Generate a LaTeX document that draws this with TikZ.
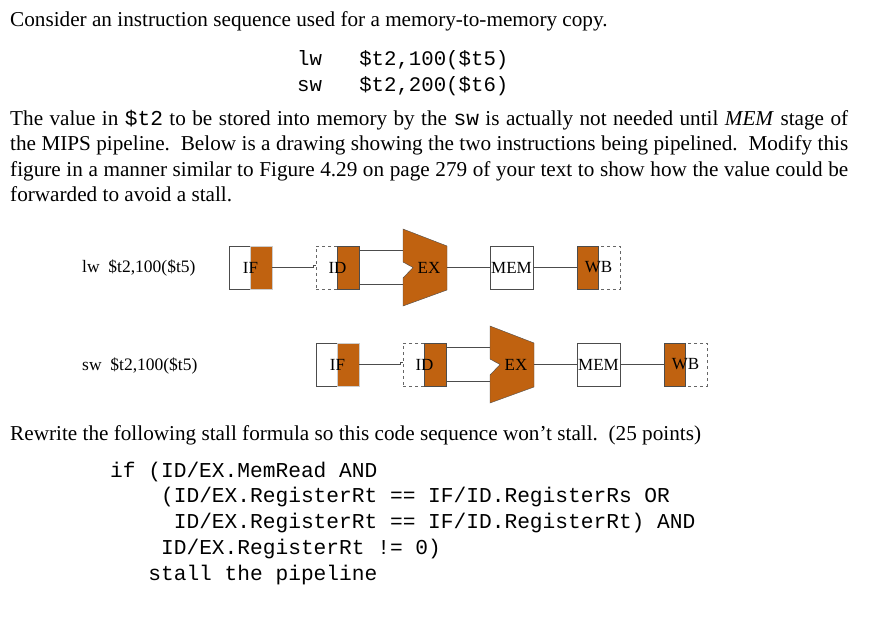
\documentclass[tikz,border=0pt]{standalone}
\usepackage{fontspec}
\setmainfont{Liberation Serif}
\setmonofont{Liberation Mono}
\usetikzlibrary{positioning}
\definecolor{stagefill}{RGB}{192,98,16}
\tikzstyle{stage} = [rectangle,minimum width=43pt,minimum height=43pt,inner sep=0pt,draw=black!70,fill=white]
\tikzstyle{ghost} = [stage,dashed,draw=black!60]
\tikzstyle{half} = [rectangle,minimum width=21.5pt,minimum height=43pt,inner sep=0pt,draw=black!70,fill=stagefill]
\tikzstyle{lbl} = [inner sep=0pt,font=\fontsize{17}{18}\selectfont]
\tikzstyle{wire} = [draw=black!70]

% one pipeline row: #1 name prefix, #2 x, #3 y (top of boxes)
\newcommand{\piperow}[3]{%
  \node (#1if) [stage] at (#2+21.5,#3+21.5) {};
  \node (#1ifh) [half,draw=black!20] at (#2+32.25,#3+21.5) {};
  \node [lbl] at (#1if) {IF};
  \node (#1id) [ghost] at (#2+108.5,#3+21.5) {};
  \node (#1idh) [half] at (#2+119.25,#3+21.5) {};
  \node [lbl] at (#1id) {ID};
  \coordinate (#1exa) at (#2+174,#3+4);
  \coordinate (#1exb) at (#2+174,#3+38);
  \coordinate (#1exo) at (#2+218,#3+21.5);
  \draw [wire,fill=stagefill] (#2+174,#3-17) -- (#2+218,#3) -- (#2+218,#3+44) -- (#2+174,#3+60)
    -- (#2+174,#3+32) -- (#2+184,#3+21.5) -- (#2+174,#3+16) -- cycle;
  \node [lbl] at (#2+200,#3+22) {EX};
  \node (#1mem) [stage] at (#2+282.5,#3+21.5) {};
  \node [lbl] at (#1mem) {MEM};
  \node (#1wb) [ghost] at (#2+369.5,#3+21.5) {};
  \node (#1wbh) [half] at (#2+358.75,#3+21.5) {};
  \node [lbl] at (#1wb) {WB};
  \draw [wire] (#1if.east) -- ++(41,0) -- ++(0,-2) -- ++(3,0);
  \draw [wire] (#1idh.east |- #1exa) -- (#1exa);
  \draw [wire] (#1idh.east |- #1exb) -- (#1exb);
  \draw [wire] (#1exo) -- (#1mem.west);
  \draw [wire] (#1mem.east) -- (#1wbh.west);
}

\begin{document}
\begin{tikzpicture}[x=1pt,y=-1pt]
\useasboundingbox (0,0) rectangle (874,642);

\node (intro) [anchor=base west,inner sep=0pt,font=\fontsize{21.2}{24}\selectfont] at (10,27)
  {Consider an instruction sequence used for a memory-to-memory copy.};
% anchor base = last line of a multi-line node
\node (code) [anchor=base west,inner sep=0pt,align=left,font=\ttfamily\fontsize{20.7}{25}\selectfont] at (297,91)
  {lw\ \ \ \$t2,100(\$t5)\\sw\ \ \ \$t2,200(\$t6)};

\node (para) [anchor=north west,inner sep=0pt,text width=838pt,align=justify,font=\fontsize{21.2}{25.5}\selectfont] at (10,110)
  {The value in \texttt{\$t2} to be stored into memory by the \texttt{sw} is actually not needed until \textit{MEM} stage of\linebreak
   the MIPS pipeline.\ \ Below is a drawing showing the two instructions being pipelined.\ \ Modify this\linebreak
   figure in a manner similar to Figure 4.29 on page 279 of your text to show how the value could be\linebreak
   forwarded to avoid a stall.\par};

\node (lwlbl) [anchor=west,inner sep=0pt,font=\fontsize{17.5}{18}\selectfont] at (82,268) {lw\ \ \$t2,100(\$t5)};
\node (swlbl) [anchor=west,inner sep=0pt,font=\fontsize{17.5}{18}\selectfont] at (82,366) {sw\ \ \$t2,100(\$t5)};

\piperow{a}{229}{246}
\piperow{b}{316}{343}

\node (ask) [anchor=base west,inner sep=0pt,font=\fontsize{21.2}{24}\selectfont] at (10,440)
  {Rewrite the following stall formula so this code sequence won't stall.\ \ (25 points)};

\node (rule) [anchor=base west,inner sep=0pt,align=left,font=\ttfamily\fontsize{21.2}{25.7}\selectfont] at (110,580)
  {if (ID/EX.MemRead AND\\
   \ \ \ \ (ID/EX.RegisterRt == IF/ID.RegisterRs OR\\
   \ \ \ \ \ ID/EX.RegisterRt == IF/ID.RegisterRt) AND\\
   \ \ \ \ ID/EX.RegisterRt != 0)\\
   \ \ \ stall the pipeline};

\end{tikzpicture}
\end{document}
